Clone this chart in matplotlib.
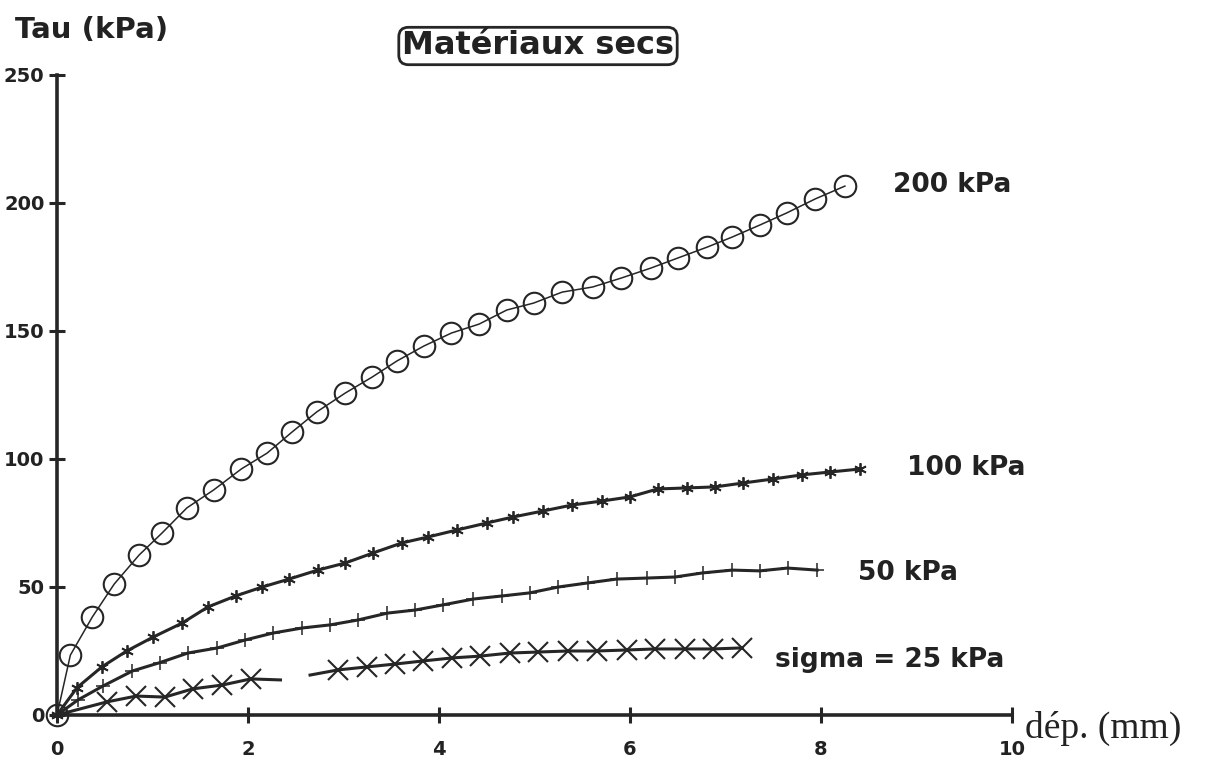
import matplotlib
matplotlib.use("Agg")
import matplotlib.pyplot as plt

# shear test results, tau (kPa) against displacement (mm)
X_200 = [0.0, 0.14, 0.37, 0.60, 0.86, 1.10, 1.36, 1.64, 1.93, 2.20, 2.46, 2.72,
         3.02, 3.30, 3.56, 3.84, 4.13, 4.42, 4.71, 4.99, 5.29, 5.61, 5.91, 6.22,
         6.50, 6.81, 7.07, 7.36, 7.64, 7.94, 8.25]
Y_200 = [0.0, 23.4, 38.3, 51.2, 62.5, 71.1, 80.9, 87.9, 96.1, 102.3, 110.5, 118.4,
         125.8, 132.0, 138.3, 144.1, 149.2, 152.7, 158.2, 160.9, 165.2, 167.2, 170.7, 174.6,
         178.5, 182.8, 186.7, 191.4, 196.1, 201.6, 206.6]

X_100 = [0.0, 0.21, 0.47, 0.73, 1.01, 1.31, 1.58, 1.87, 2.15, 2.43, 2.73, 3.02,
         3.31, 3.61, 3.88, 4.19, 4.50, 4.77, 5.09, 5.39, 5.71, 6.00, 6.29, 6.60,
         6.89, 7.18, 7.50, 7.80, 8.09, 8.41]
Y_100 = [0.0, 10.7, 18.8, 25.0, 30.5, 35.9, 42.2, 46.5, 50.0, 53.1, 56.6, 59.4,
         63.3, 67.2, 69.5, 72.3, 75.0, 77.3, 79.7, 82.0, 83.6, 85.2, 88.3, 88.7,
         89.1, 90.6, 92.2, 93.8, 94.9, 96.1]

X_50 = [0.0, 0.22, 0.48, 0.79, 1.08, 1.37, 1.68, 1.97, 2.26, 2.57, 2.86, 3.15,
        3.46, 3.75, 4.04, 4.36, 4.66, 4.95, 5.25, 5.56, 5.86, 6.18, 6.47, 6.76,
        7.07, 7.36, 7.65, 7.96]
Y_50 = [0.0, 5.9, 11.3, 17.2, 20.5, 24.2, 26.2, 29.3, 32.0, 34.0, 35.2, 37.1,
        39.8, 41.0, 43.0, 45.3, 46.5, 47.7, 50.0, 51.6, 53.1, 53.5, 53.9, 55.5,
        56.6, 56.3, 57.4, 56.6]

# the 25 kPa record has a gap between about 2.3 and 2.6 mm
X_25_A = [0.0, 0.52, 0.83, 1.13, 1.42, 1.73, 2.03, 2.34]
Y_25_A = [0.0, 5.1, 7.4, 7.0, 10.2, 11.7, 14.1, 13.7]
X_25_B = [2.65, 2.94, 3.25, 3.54, 3.83, 4.14, 4.43, 4.74, 5.04, 5.35, 5.65, 5.97,
          6.26, 6.58, 6.87, 7.17]
Y_25_B = [15.6, 17.6, 18.8, 19.9, 21.1, 22.3, 23.0, 24.2, 24.6, 25.0, 25.0, 25.4,
          25.8, 25.8, 25.8, 26.2]

CURVE_LABELS = ["200 kPa", "100 kPa", "50 kPa", "sigma = 25 kPa"]
LABEL_POS = [(8.75, 207), (8.9, 96.5), (8.39, 55.5), (7.52, 21.5)]

X_TICKS = [0, 2, 4, 6, 8, 10]
Y_TICKS = [0, 50, 100, 150, 200, 250]

W, H = 1205, 777
BOLD = dict(family="DejaVu Sans", fontweight="bold", color="#222222")


def main():
    fig = plt.figure(figsize=(W / 100, H / 100), dpi=100)
    ax = fig.add_axes([57 / W, 62 / H, 955 / W, 640 / H])

    ink = "#262626"
    ax.plot(X_200, Y_200, color=ink, lw=1.1, marker="o", ms=15.5, mfc="none",
            mec=ink, mew=1.5, clip_on=False, zorder=3)
    ax.plot(X_100, Y_100, color=ink, lw=2.2, marker=(6, 2, 0), ms=9, mew=1.3,
            mec=ink, clip_on=False, zorder=3)
    ax.plot(X_50, Y_50, color=ink, lw=2.2, marker="+", ms=10, mew=1.1,
            mec=ink, clip_on=False, zorder=3)
    ax.plot(X_25_A, Y_25_A, color=ink, lw=2.2, marker="x", ms=14, mew=1.5,
            mec=ink, markevery=list(range(1, len(X_25_A) - 1)), clip_on=False, zorder=3)
    ax.plot(X_25_B, Y_25_B, color=ink, lw=2.2, marker="x", ms=14, mew=1.5,
            mec=ink, markevery=list(range(1, len(X_25_B))), clip_on=False, zorder=3)

    for text, (x, y) in zip(CURVE_LABELS, LABEL_POS):
        ax.text(x, y, text, ha="left", va="center", fontsize=19, **BOLD)

    ax.set_xlim(0, 10)
    ax.set_ylim(0, 250)
    for side in ("top", "right"):
        ax.spines[side].set_visible(False)
    for side in ("left", "bottom"):
        ax.spines[side].set_linewidth(2.6)
        ax.spines[side].set_color(ink)

    ax.set_xticks(X_TICKS)
    ax.set_yticks(Y_TICKS)
    ax.set_xticklabels([str(t) for t in X_TICKS])
    ax.set_yticklabels([str(t) for t in Y_TICKS])
    ax.tick_params(axis="both", direction="inout", length=12, width=2.2, color=ink)
    ax.tick_params(axis="x", pad=12)
    ax.tick_params(axis="y", pad=3)
    for lab in ax.get_xticklabels() + ax.get_yticklabels():
        lab.set_fontsize(14)
        lab.set_fontweight("bold")
        lab.set_color("#222222")

    fig.text(15 / W, 1 - 30 / H, "Tau (kPa)", ha="left", va="center",
             fontsize=21, **BOLD)
    fig.text(538 / W, 1 - 46 / H, "Matériaux secs", ha="center", va="center",
             fontsize=23, **BOLD,
             bbox=dict(boxstyle="round,pad=0.1,rounding_size=0.3", fc="white",
                       ec=ink, lw=2.0))
    fig.text(1025 / W, 1 - 728 / H, "dép. (mm)", ha="left", va="center",
             fontsize=27, family="Liberation Serif", color="#222222")

    fig.savefig("out.png", dpi=100)


if __name__ == "__main__":
    main()
